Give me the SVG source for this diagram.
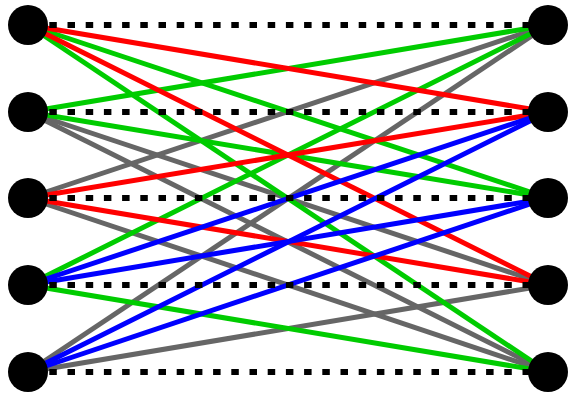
<svg xmlns="http://www.w3.org/2000/svg" width="568" height="394" viewBox="0 0 568 394">
<style>
.e{stroke-width:5;fill:none}
.gy{stroke:#666666}.gn{stroke:#00cc00}.rd{stroke:#ff0000}.bl{stroke:#0000ff}
.d{stroke:#000;stroke-width:6;stroke-dasharray:7.5 10.7;fill:none}
.n{fill:#000}
</style>
<rect width="568" height="394" fill="#fff"/>
<g id="connectors">
<line class="e gy" x1="28" y1="112" x2="548" y2="285"/>
<line class="e gy" x1="28" y1="112" x2="548" y2="372"/>
<line class="e gy" x1="28" y1="198" x2="548" y2="25"/>
<line class="e gy" x1="28" y1="198" x2="548" y2="372"/>
<line class="e gy" x1="28" y1="372" x2="548" y2="25"/>
<line class="e gy" x1="28" y1="372" x2="548" y2="285"/>
<line class="e gn" x1="28" y1="25" x2="548" y2="198"/>
<line class="e gn" x1="28" y1="25" x2="548" y2="372"/>
<line class="e gn" x1="28" y1="112" x2="548" y2="25"/>
<line class="e gn" x1="28" y1="112" x2="548" y2="198"/>
<line class="e gn" x1="28" y1="285" x2="548" y2="25"/>
<line class="e gn" x1="28" y1="285" x2="548" y2="372"/>
<line class="e rd" x1="28" y1="25" x2="548" y2="112"/>
<line class="e rd" x1="28" y1="25" x2="548" y2="285"/>
<line class="e rd" x1="28" y1="198" x2="548" y2="112"/>
<line class="e rd" x1="28" y1="198" x2="548" y2="285"/>
<line class="e bl" x1="28" y1="285" x2="548" y2="112"/>
<line class="e bl" x1="28" y1="285" x2="548" y2="198"/>
<line class="e bl" x1="28" y1="372" x2="548" y2="112"/>
<line class="e bl" x1="28" y1="372" x2="548" y2="198"/>
<line class="d" x1="49.3" y1="25" x2="530" y2="25"/>
<line class="d" x1="49.3" y1="112" x2="530" y2="112"/>
<line class="d" x1="49.3" y1="198" x2="530" y2="198"/>
<line class="d" x1="49.3" y1="285" x2="530" y2="285"/>
<line class="d" x1="49.3" y1="372" x2="530" y2="372"/>
</g>
<g id="L0"><circle class="n" cx="28" cy="25" r="20"/></g>
<g id="L1"><circle class="n" cx="28" cy="112" r="20"/></g>
<g id="L2"><circle class="n" cx="28" cy="198" r="20"/></g>
<g id="L3"><circle class="n" cx="28" cy="285" r="20"/></g>
<g id="L4"><circle class="n" cx="28" cy="372" r="20"/></g>
<g id="R0"><circle class="n" cx="548" cy="25" r="20"/></g>
<g id="R1"><circle class="n" cx="548" cy="112" r="20"/></g>
<g id="R2"><circle class="n" cx="548" cy="198" r="20"/></g>
<g id="R3"><circle class="n" cx="548" cy="285" r="20"/></g>
<g id="R4"><circle class="n" cx="548" cy="372" r="20"/></g>
</svg>
